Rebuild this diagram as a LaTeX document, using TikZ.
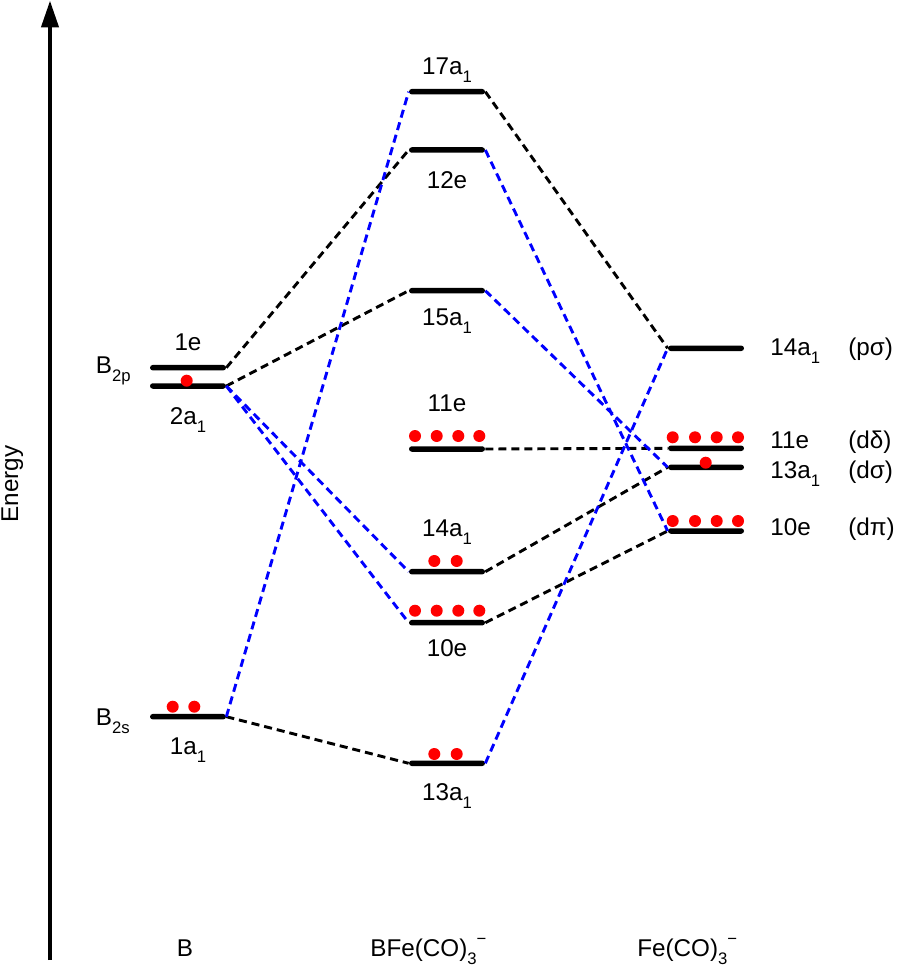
\documentclass[tikz,border=0pt]{standalone}
\usepackage{fontspec}
\setmainfont{Liberation Sans}
\usetikzlibrary{arrows.meta}

\newcommand{\lsub}[1]{\raisebox{-0.33em}{\fontsize{9.5}{10}\selectfont #1}}
\newcommand{\anionsign}{\raisebox{0.5em}{\fontsize{9.5}{10}\selectfont −}}

\begin{document}
\begin{tikzpicture}[x=0.02cm, y=-0.02cm, font=\fontsize{13.8}{16}\selectfont,
    lvl/.style={fill=black, inner sep=0pt, minimum width=1.52cm,
                minimum height=0.11cm, rounded corners=0.055cm},
    lbl/.style={anchor=base, inner sep=0pt},
    rlbl/.style={anchor=base west, inner sep=0pt},
    elec/.style={fill=red},
    corr/.style={black, line width=1.65pt, dash pattern=on 4.6pt off 2.8pt},
    xcorr/.style={blue, line width=1.65pt, dash pattern=on 4.6pt off 2.8pt},
    axis/.style={line width=2.4pt, -{Triangle[length=0.54cm,width=0.34cm]}},
  ]
    \useasboundingbox (0,0) rectangle (898,969);

    % energy axis
    \coordinate (axbot) at (50,960);
    \coordinate (axtop) at (50,0.5);
    \draw[axis] (axbot) -- (axtop);
    \node[rotate=90, anchor=base, inner sep=0pt] (energy) at (18,484) {Energy};

    % B levels
    \node[lvl] (B1e) at (188,367.7) {};
    \node[lvl] (B2a) at (188,386) {};
    \node[lvl] (B1a) at (188,716.7) {};
    \node[lbl] (tB1e) at (188,350.7) {1e};
    \node[lbl] (tB2a) at (188,424) {2a\lsub{1}};
    \node[lbl] (tB1a) at (188,754) {1a\lsub{1}};
    \node[anchor=base east, inner sep=0pt] (tB2p) at (131,373) {B\lsub{2p}};
    \node[anchor=base east, inner sep=0pt] (tB2s) at (130,725) {B\lsub{2s}};

    % BFe(CO)3- levels
    \node[lvl] (M17a) at (447,91.7) {};
    \node[lvl] (M12e) at (447,150) {};
    \node[lvl] (M15a) at (447,290.7) {};
    \node[lvl] (M11e) at (447,449) {};
    \node[lvl] (M14a) at (447,571.7) {};
    \node[lvl] (M10e) at (447,622.7) {};
    \node[lvl] (M13a) at (447,763.3) {};
    \node[lbl] (tM17a) at (447,75) {17a\lsub{1}};
    \node[lbl] (tM12e) at (447,188.3) {12e};
    \node[lbl] (tM15a) at (447,325) {15a\lsub{1}};
    \node[lbl] (tM11e) at (447,411.7) {11e};
    \node[lbl] (tM14a) at (447,536.7) {14a\lsub{1}};
    \node[lbl] (tM10e) at (447,656.7) {10e};
    \node[lbl] (tM13a) at (447,800) {13a\lsub{1}};

    % Fe(CO)3- levels
    \node[lvl] (F14a) at (706,348.3) {};
    \node[lvl] (F11e) at (706,448.3) {};
    \node[lvl] (F13a) at (706,467.3) {};
    \node[lvl] (F10e) at (706,531) {};
    \node[rlbl] (tF14a) at (770,355.5) {14a\lsub{1}};
    \node[rlbl] (tF11e) at (770,448.3) {11e};
    \node[rlbl] (tF13a) at (770,478.3) {13a\lsub{1}};
    \node[rlbl] (tF10e) at (770,535) {10e};
    \node[rlbl] (sF14a) at (848,355.5) {(pσ)};
    \node[rlbl] (sF11e) at (848,448.3) {(dδ)};
    \node[rlbl] (sF13a) at (848,478.3) {(dσ)};
    \node[rlbl] (sF10e) at (848,535) {(dπ)};

    % fragment names
    \node[lbl] (nB) at (185,956.7) {B};
    \node[rlbl] (nBFe) at (370,956.7) {BFe(CO)\lsub{3}\anionsign};
    \node[rlbl] (nFe) at (637,956.7) {Fe(CO)\lsub{3}\anionsign};

    % correlation lines
    \draw[corr] (B1e.east) -- (M12e.west);
    \draw[corr] (B2a.east) -- (M15a.west);
    \draw[corr] (B1a.east) -- (M13a.west);
    \draw[corr] (M17a.east) -- (F14a.west);
    \draw[corr] (M11e.east) -- (F11e.west);
    \draw[corr] (M14a.east) -- (F13a.west);
    \draw[corr] (M10e.east) -- (F10e.west);
    \draw[xcorr] (B1a.east) -- (M17a.west);
    \draw[xcorr] (B2a.east) -- (M14a.west);
    \draw[xcorr] (B2a.east) -- (M10e.west);
    \draw[xcorr] (M12e.east) -- (F10e.west);
    \draw[xcorr] (M15a.east) -- (F13a.west);
    \draw[xcorr] (M13a.east) -- (F14a.west);

    % electrons
    \fill[elec] (186.7,380.7) circle (0.12cm);
    \foreach \x in {172.7,194.3} \fill[elec] (\x,706.7) circle (0.12cm);
    \foreach \x in {415,436.7,458.3,479.3} {
      \fill[elec] (\x,436) circle (0.12cm);
      \fill[elec] (\x,610.7) circle (0.12cm);
    }
    \foreach \x in {434.3,456.7} {
      \fill[elec] (\x,561) circle (0.12cm);
      \fill[elec] (\x,754) circle (0.12cm);
    }
    \foreach \x in {672.7,695,716.7,738} {
      \fill[elec] (\x,437.3) circle (0.12cm);
      \fill[elec] (\x,521) circle (0.12cm);
    }
    \fill[elec] (705.7,462.7) circle (0.12cm);
\end{tikzpicture}
\end{document}
